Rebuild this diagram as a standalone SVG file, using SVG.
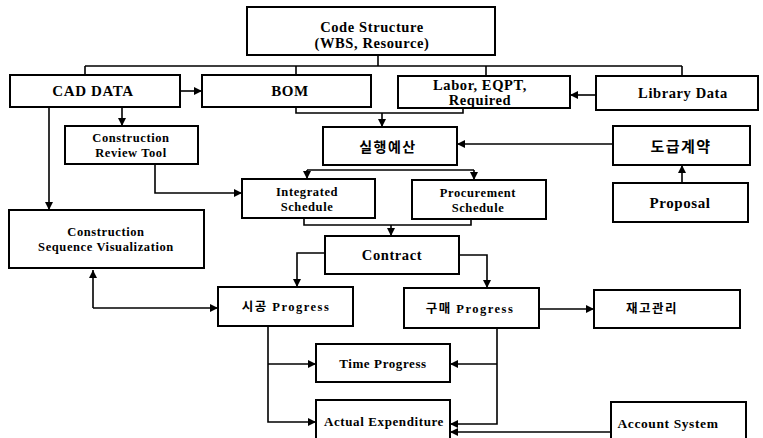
<svg xmlns="http://www.w3.org/2000/svg" width="763" height="438" viewBox="0 0 763 438">
<defs>
<marker id="ah" viewBox="0 0 10 10" refX="10" refY="5" markerWidth="8" markerHeight="8" markerUnits="userSpaceOnUse" orient="auto-start-reverse">
<path d="M0,0 L10,5 L0,10 z" fill="#000"/>
</marker>
<style>
.box{fill:#fff;stroke:#000;stroke-width:2}
.t{font-family:"Liberation Serif","Times New Roman",serif;font-weight:bold;fill:#000;text-anchor:middle;letter-spacing:0.6px}
.k{font-family:"Liberation Serif","Noto Sans CJK KR",serif;font-weight:bold;fill:#000;text-anchor:middle;letter-spacing:1.5px}
.c{fill:none;stroke:#000;stroke-width:1.6}
.a{fill:none;stroke:#000;stroke-width:1.6;marker-end:url(#ah)}
</style>
</defs>
<rect width="763" height="438" fill="#fff"/>
<g id="connectors">
<path class="c" d="M378,55 V66 M85,66 H682 M85,66 V75 M296,66 V75 M486,66 V76 M682,66 V76"/>
<path class="a" d="M180,91 H202"/>
<path class="a" d="M596,95 H570"/>
<path class="c" d="M296,107 V113 H463 V108"/>
<path class="a" d="M382,113 V127"/>
<path class="a" d="M613,144 H457"/>
<path class="a" d="M682,183 V165"/>
<path class="c" d="M307,170 H474"/>
<path class="a" d="M307,170 V179"/>
<path class="a" d="M474,170 V180"/>
<path class="c" d="M304,218 V225 H471 V219"/>
<path class="a" d="M391,225 V236"/>
<path class="a" d="M325,253 H297 V287"/>
<path class="a" d="M459,255 H487 V288"/>
<path class="a" d="M539,309 H594"/>
<path class="a" d="M122,107 V126"/>
<path class="a" d="M49,107 V210"/>
<path class="a" d="M155,164 V193 H242"/>
<path class="a" d="M93,308 V270"/>
<path class="a" d="M93,308 H218"/>
<path class="a" d="M268,326 V422 H316"/>
<path class="a" d="M268,364 H316"/>
<path class="a" d="M497,328 V424 H450"/>
<path class="a" d="M497,364 H450"/>
<path class="a" d="M611,432 H450"/>
</g>
<g id="code-structure"><rect class="box" x="247" y="7" width="248" height="48"/><text class="t" x="372" y="32" font-size="14.5">Code Structure</text><text class="t" x="372" y="48" font-size="14.5">(WBS, Resource)</text></g>
<g id="cad-data"><rect class="box" x="10" y="75" width="170" height="32"/><text class="t" x="93" y="96" font-size="15">CAD DATA</text></g>
<g id="bom"><rect class="box" x="202" y="75" width="169" height="32"/><text class="t" x="290" y="96" font-size="15">BOM</text></g>
<g id="labor"><rect class="box" x="398" y="76" width="172" height="32"/><text class="t" x="480" y="90" font-size="14.5">Labor, EQPT,</text><text class="t" x="480" y="105" font-size="14.5">Required</text></g>
<g id="library"><rect class="box" x="596" y="76" width="162" height="34"/><text class="t" x="683" y="98" font-size="14.5">Library Data</text></g>
<g id="review-tool"><rect class="box" x="65" y="126" width="133" height="38"/><text class="t" x="131" y="142" font-size="12.5">Construction</text><text class="t" x="131" y="157" font-size="12.5">Review Tool</text></g>
<g id="budget"><rect class="box" x="323" y="127" width="134" height="38"/><text class="k" x="388" y="152" font-size="14">실행예산</text></g>
<g id="contract-subcon"><rect class="box" x="613" y="126" width="137" height="39"/><text class="k" x="681" y="152" font-size="15">도급계약</text></g>
<g id="integrated"><rect class="box" x="242" y="179" width="133" height="39"/><text class="t" x="307" y="196" font-size="12.5">Integrated</text><text class="t" x="307" y="211" font-size="12.5">Schedule</text></g>
<g id="procurement"><rect class="box" x="412" y="180" width="134" height="39"/><text class="t" x="478" y="197" font-size="12.5">Procurement</text><text class="t" x="478" y="212" font-size="12.5">Schedule</text></g>
<g id="proposal"><rect class="box" x="613" y="183" width="135" height="39"/><text class="t" x="680" y="208" font-size="15">Proposal</text></g>
<g id="csv"><rect class="box" x="9" y="210" width="195" height="58"/><text class="t" x="106" y="236" font-size="12.5">Construction</text><text class="t" x="106" y="251" font-size="12.5">Sequence Visualization</text></g>
<g id="contract"><rect class="box" x="325" y="236" width="134" height="38"/><text class="t" x="392" y="260" font-size="14.5">Contract</text></g>
<g id="construction-progress"><rect class="box" x="218" y="287" width="135" height="39"/><text class="k" x="286" y="311" font-size="12.5">시공 Progress</text></g>
<g id="purchase-progress"><rect class="box" x="404" y="288" width="135" height="40"/><text class="k" x="470" y="313" font-size="12.5">구매 Progress</text></g>
<g id="inventory"><rect class="box" x="594" y="290" width="146" height="38"/><text class="k" x="652" y="313" font-size="12.5">재고관리</text></g>
<g id="time-progress"><rect class="box" x="316" y="344" width="134" height="38"/><text class="t" x="383" y="368" font-size="13">Time Progress</text></g>
<g id="actual-expenditure"><rect class="box" x="316" y="400" width="134" height="50"/><text class="t" x="384" y="426" font-size="13">Actual Expenditure</text></g>
<g id="account-system"><rect class="box" x="611" y="402" width="135" height="48"/><text class="t" x="668" y="428" font-size="13.5">Account System</text></g>
</svg>
